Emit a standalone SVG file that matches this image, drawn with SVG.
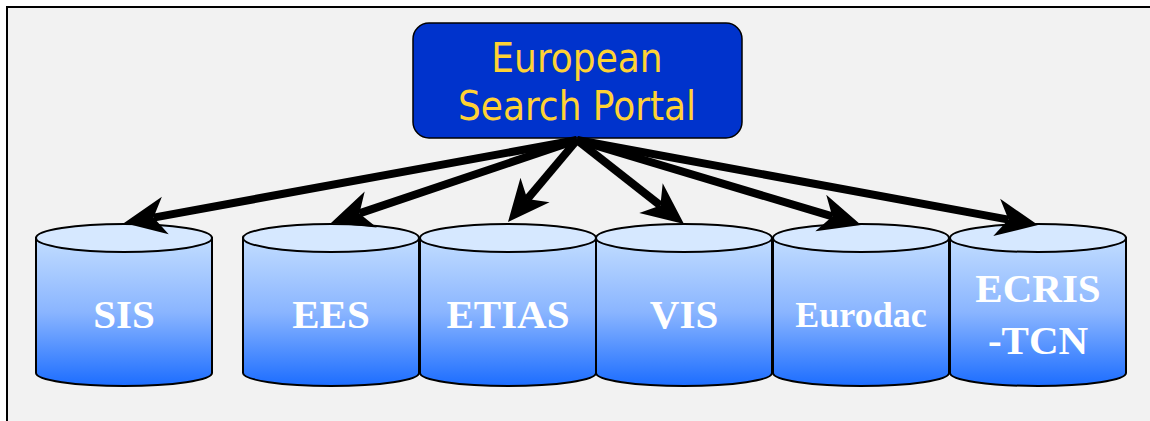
<svg xmlns="http://www.w3.org/2000/svg" width="1150" height="421" viewBox="0 0 1150 421">
<style>
.cyl{stroke:#000;stroke-width:2;}
.body{fill:url(#gBody);}
.top{fill:#d6e8ff;}
.lbl{font-family:"Liberation Serif","Times New Roman",serif;font-weight:bold;fill:#fff;font-size:41px;text-anchor:middle;}
.portal-text{font-family:"DejaVu Sans Condensed","DejaVu Sans",sans-serif;font-stretch:condensed;fill:#ffd234;font-size:40px;text-anchor:middle;}
.conn{stroke:#000;stroke-width:8;fill:none;marker-end:url(#arr);}
</style>
<defs>
<linearGradient id="gBody" x1="0" y1="0" x2="0" y2="1">
<stop offset="0" stop-color="#c2ddff"/>
<stop offset="0.5" stop-color="#8ab5ff"/>
<stop offset="1" stop-color="#1c6dff"/>
</linearGradient>
<marker id="arr" markerUnits="userSpaceOnUse" markerWidth="48" markerHeight="44" viewBox="-14 -22 48 44" refX="0" refY="0" orient="auto" overflow="visible">
<path d="M30,0 L-12,-19 L0,0 L-12,19 Z" fill="#000"/>
</marker>
</defs>
<rect x="7" y="7" width="1160" height="430" fill="#f2f2f2" stroke="#000" stroke-width="2"/>

<g id="portal">
<rect x="413" y="23" width="329" height="115" rx="16" ry="16" fill="#0033cc" stroke="#000" stroke-width="1.5"/>
<text class="portal-text" x="577" y="72">European</text>
<text class="portal-text" x="577" y="120">Search Portal</text>
</g>

<g id="sis">
<path class="cyl body" d="M36,238 L36,373 A88,13 0 0 0 212,373 L212,238 Z"/>
<ellipse class="cyl top" cx="124" cy="238" rx="88" ry="14"/>
<text class="lbl" x="124" y="328">SIS</text>
</g>
<g id="ees">
<path class="cyl body" d="M243,238 L243,373 A88,13 0 0 0 419,373 L419,238 Z"/>
<ellipse class="cyl top" cx="331" cy="238" rx="88" ry="14"/>
<text class="lbl" x="331" y="328">EES</text>
</g>
<g id="etias">
<path class="cyl body" d="M420,238 L420,373 A88,13 0 0 0 596,373 L596,238 Z"/>
<ellipse class="cyl top" cx="508" cy="238" rx="88" ry="14"/>
<text class="lbl" x="508" y="328">ETIAS</text>
</g>
<g id="vis">
<path class="cyl body" d="M596,238 L596,373 A88,13 0 0 0 772,373 L772,238 Z"/>
<ellipse class="cyl top" cx="684" cy="238" rx="88" ry="14"/>
<text class="lbl" x="684" y="328">VIS</text>
</g>
<g id="eurodac">
<path class="cyl body" d="M773,238 L773,373 A88,13 0 0 0 949,373 L949,238 Z"/>
<ellipse class="cyl top" cx="861" cy="238" rx="88" ry="14"/>
<text class="lbl" x="861" y="327" style="font-size:36px">Eurodac</text>
</g>
<g id="ecris">
<path class="cyl body" d="M950,238 L950,373 A88,13 0 0 0 1126,373 L1126,238 Z"/>
<ellipse class="cyl top" cx="1038" cy="238" rx="88" ry="14"/>
<text class="lbl" x="1038" y="302">ECRIS</text>
<text class="lbl" x="1038" y="354">-TCN</text>
</g>

<g id="connectors">
<line class="conn" x1="577" y1="140" x2="153.5" y2="217.6"/>
<line class="conn" x1="577" y1="140" x2="359.4" y2="213.4"/>
<line class="conn" x1="577" y1="140" x2="527.3" y2="199.1"/>
<line class="conn" x1="577" y1="140" x2="660.4" y2="205.5"/>
<line class="conn" x1="577" y1="140" x2="832.3" y2="216.4"/>
<line class="conn" x1="577" y1="140" x2="1008.5" y2="219.6"/>
</g>
</svg>
